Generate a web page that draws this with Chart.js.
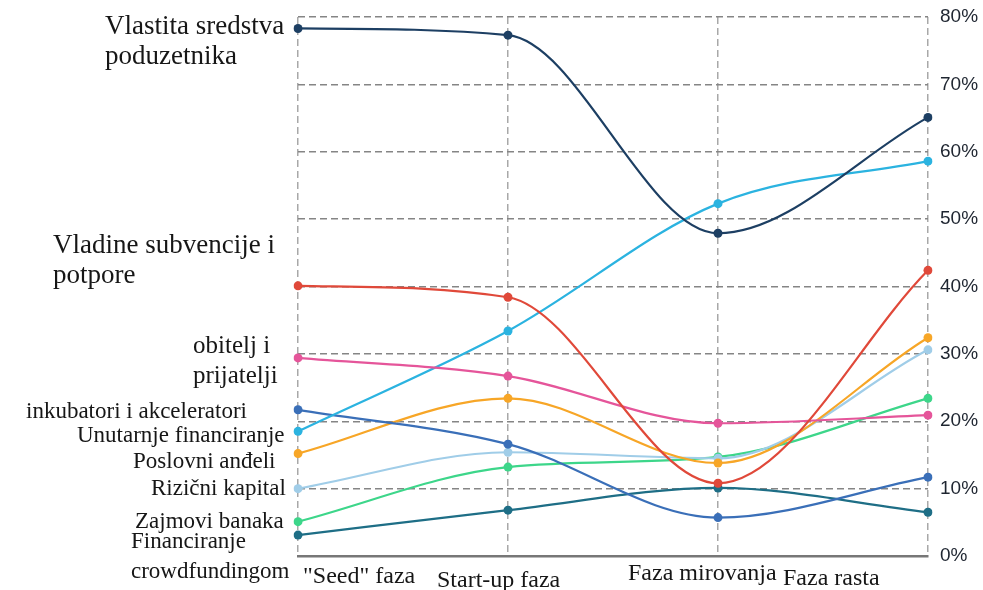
<!DOCTYPE html>
<html lang="hr">
<head>
    <meta charset="UTF-8">
    <title>Izvori financiranja po fazama</title>
    <style>
        html, body {
            margin: 0;
            padding: 0;
            background: #ffffff;
        }
        .chart-container {
            width: 983px;
            height: 590px;
            position: relative;
        }
    </style>
</head>
<body>
    <div class="chart-container">
        <canvas id="fazeChart"></canvas>
    </div>

    <script src="https://cdn.jsdelivr.net/npm/chart.js"></script>

    <script>
        // Faze (kategorije na osi x)
        const faze = ['"Seed" faza', 'Start-up faza', 'Faza mirovanja', 'Faza rasta'];

        // Udio pojedinog izvora financiranja (%)
        const vlastitaSredstva = [78.3, 77.3, 47.9, 65.1];
        const vladineSubvencije = [40.1, 38.4, 10.8, 42.4];
        const obiteljPrijatelji = [29.4, 26.7, 19.7, 20.9];
        const unutarnjeFinanciranje = [18.5, 33.4, 52.3, 58.6];
        const inkubatori = [21.7, 16.6, 5.7, 11.7];
        const poslovniAndeli = [15.2, 23.4, 13.8, 32.4];
        const rizicniKapital = [10.0, 15.4, 14.5, 30.6];
        const zajmoviBanaka = [5.1, 13.2, 14.7, 23.4];
        const crowdfunding = [3.1, 6.8, 10.1, 6.5];

        // Oznake osi y
        const yTicks = [0, 10, 20, 30, 40, 50, 60, 70, 80];

        // Nazivi serija (po redovima kako su ispisani lijevo)
        const nazivi = [
            ['Vlastita sredstva', 'poduzetnika'],
            ['Vladine subvencije i', 'potpore'],
            ['obitelj i', 'prijatelji'],
            ['Unutarnje financiranje'],
            ['inkubatori i akceleratori'],
            ['Poslovni anđeli'],
            ['Rizični kapital'],
            ['Zajmovi banaka'],
            ['Financiranje', 'crowdfundingom']
        ];
        const vrijednosti = [vlastitaSredstva, vladineSubvencije, obiteljPrijatelji, unutarnjeFinanciranje,
            inkubatori, poslovniAndeli, rizicniKapital, zajmoviBanaka, crowdfunding];
        const boje = ['#1d3f63', '#e0493a', '#e5559a', '#2bb3e0', '#3a6fb8', '#f7a627', '#a0cde8', '#3dd68a', '#1e6e86'];

        // Raspored natpisa lijevo od grafa (x lijevi rub, y osnovna linija, veličina fonta)
        const rasporedNaziva = [
            { x: 105, y: 34, size: 27 },
            { x: 53, y: 253, size: 27 },
            { x: 193, y: 353, size: 25 },
            { x: 77, y: 442, size: 23 },
            { x: 26, y: 418, size: 23 },
            { x: 133, y: 468, size: 23 },
            { x: 151, y: 495, size: 23 },
            { x: 135, y: 528, size: 23 },
            { x: 131, y: 548, size: 23 }
        ];
        const razmakRedova = 30;

        // Raspored natpisa faza ispod osi x
        const rasporedFaza = [
            { x: 303, y: 583 },
            { x: 437, y: 587 },
            { x: 628, y: 580 },
            { x: 783, y: 585 }
        ];

        const serifFont = '"Liberation Serif", "DejaVu Serif", serif';

        // Plugin za natpise serija i faza
        const natpisiPlugin = {
            id: 'natpisi',
            afterDraw(chart) {
                const ctx = chart.ctx;
                ctx.save();
                ctx.fillStyle = '#161616';
                ctx.textAlign = 'left';
                ctx.textBaseline = 'alphabetic';

                nazivi.forEach((redovi, i) => {
                    const r = rasporedNaziva[i];
                    ctx.font = r.size + 'px ' + serifFont;
                    redovi.forEach((red, j) => {
                        ctx.fillText(red, r.x, r.y + j * razmakRedova);
                    });
                });

                ctx.font = '24px ' + serifFont;
                chart.data.labels.forEach((lab, i) => {
                    const r = rasporedFaza[i];
                    ctx.fillText(lab, r.x, r.y);
                });
                ctx.restore();
            }
        };

        const datasets = vrijednosti.map((vals, i) => ({
            label: nazivi[i].join(' '),
            data: vals,
            borderColor: boje[i],
            backgroundColor: boje[i],
            pointBackgroundColor: boje[i],
            pointBorderColor: boje[i],
            pointRadius: 4.5,
            pointBorderWidth: 0,
            borderWidth: 2.2,
            cubicInterpolationMode: 'monotone',
            fill: false,
            order: i === 0 ? 0 : 1
        }));

        const ctx = document.getElementById('fazeChart').getContext('2d');
        new Chart(ctx, {
            type: 'line',
            data: {
                labels: faze,
                datasets: datasets
            },
            options: {
                responsive: true,
                maintainAspectRatio: false,
                animation: false,
                layout: {
                    padding: { left: 298, right: 0, top: 17, bottom: 34 }
                },
                plugins: {
                    legend: { display: false },
                    tooltip: { enabled: false }
                },
                scales: {
                    x: {
                        offset: false,
                        ticks: { display: false },
                        grid: {
                            color: '#a8a8a8',
                            lineWidth: 1.5,
                            drawTicks: false
                        },
                        border: {
                            display: true,
                            color: '#777777',
                            width: 2.5,
                            dash: [7, 4]
                        }
                    },
                    y: {
                        position: 'right',
                        min: 0,
                        max: 80,
                        afterBuildTicks(scale) {
                            scale.ticks = yTicks.map(v => ({ value: v }));
                        },
                        afterFit(scale) {
                            scale.width = 55;
                            scale.paddingTop = 0;
                            scale.paddingBottom = 0;
                        },
                        ticks: {
                            padding: 12,
                            color: '#1e2530',
                            font: { family: '"Liberation Sans", Arial, sans-serif', size: 19 },
                            callback: v => v + '%'
                        },
                        grid: {
                            color: '#858585',
                            lineWidth: 1.5,
                            drawTicks: false
                        },
                        border: {
                            display: false,
                            dash: [7, 4]
                        }
                    }
                }
            },
            plugins: [natpisiPlugin]
        });
    </script>
</body>
</html>
